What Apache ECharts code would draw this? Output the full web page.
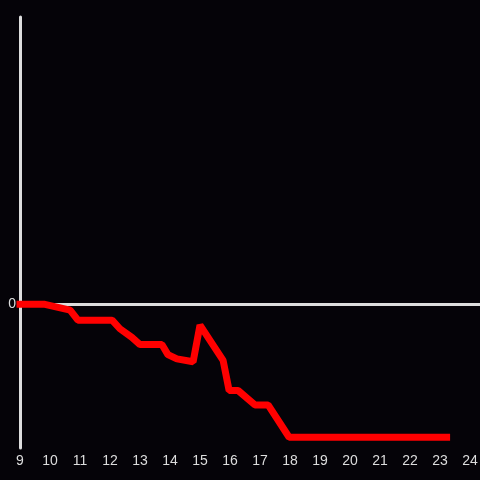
<!DOCTYPE html>
<html>
<head>
<meta charset="utf-8">
<script src="https://cdn.jsdelivr.net/npm/echarts@6/dist/echarts.min.js"></script>
<style>
html,body{margin:0;padding:0;background:#050308;}
#chart{width:480px;height:480px;}
</style>
</head>
<body>
<div id="chart"></div>
<script>
// hours on x
let xs=[9,9.83,10.67,10.93,12.07,12.33,12.73,13.0,13.73,13.93,14.23,14.77,15.0,15.77,15.97,16.27,16.83,17.27,17.97,23.22]
let ys=[0,0,-0.04,-0.11,-0.11,-0.17,-0.23,-0.28,-0.28,-0.35,-0.38,-0.4,-0.145,-0.39,-0.6,-0.6,-0.7,-0.7,-0.925,-0.925]
let xTicks=[9,10,11,12,13,14,15,16,17,18,19,20,21,22,23,24]
let yTicks=[0]

let points=xs.map((x,i)=>[x,ys[i]])
let myChart=echarts.init(document.getElementById("chart"))
myChart.setOption({
  backgroundColor:"#050308",
  animation:false,
  grid:{
    left:20,
    right:0,
    top:17,
    bottom:32,
    containLabel:false,
    outerBoundsMode:"none",
  },
  xAxis:[
    {
      type:"value",
      min:9,
      max:24.333,
      interval:1,
      position:"bottom",
      axisLine:{show:false,onZero:false},
      axisTick:{show:false},
      splitLine:{show:false},
      axisLabel:{
        color:"#dddddd",
        fontSize:14,
        margin:6,
        formatter:v=>xTicks.indexOf(v)>=0?String(v):"",
      },
    },
    {
      // zero line
      type:"value",
      min:9,
      max:24.333,
      position:"bottom",
      axisLine:{show:true,onZero:true,lineStyle:{color:"#dddddd",width:3}},
      axisTick:{show:false},
      axisLabel:{show:false},
      splitLine:{show:false},
    },
  ],
  yAxis:{
    type:"value",
    min:-1,
    max:2,
    interval:1,
    axisLine:{show:true,onZero:false,lineStyle:{color:"#dddddd",width:3}},
    axisTick:{show:false},
    splitLine:{show:false},
    axisLabel:{
      color:"#dddddd",
      fontSize:14,
      margin:4,
      formatter:v=>yTicks.indexOf(v)>=0?String(v):"",
    },
  },
  series:[
    {
      type:"line",
      data:points,
      showSymbol:false,
      lineStyle:{
        color:"#ff0000",
        width:7,
        cap:"square",
      },
    },
  ],
})
</script>
</body>
</html>
